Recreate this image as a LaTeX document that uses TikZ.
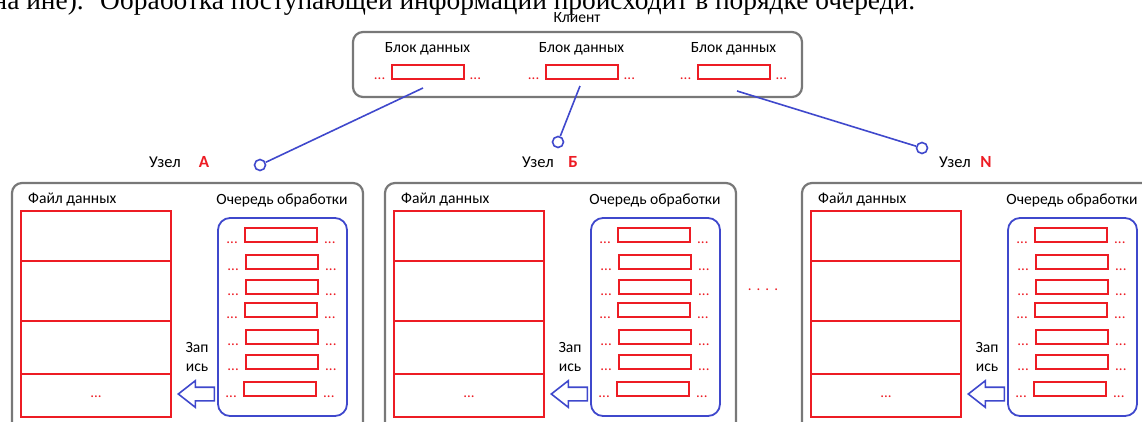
\documentclass[tikz,border=0pt]{standalone}
\usepackage{fontspec}
\setmainfont{Carlito}
\newfontfamily\serifbody{Liberation Serif}
\usepackage{tikz}
\usetikzlibrary{positioning}
\usetikzlibrary{shapes.arrows}
\definecolor{myred}{RGB}{237,28,36}
\definecolor{myblue}{RGB}{63,72,204}
\definecolor{mygray}{RGB}{120,120,120}
\tikzset{
  mybox/.style={
    draw=mygray,
    shape=rectangle,
    line width=2.2pt,
    rounded corners=10pt,
    inner sep=0pt,
  },
  myqueue/.style={
    draw=myblue,
    shape=rectangle,
    line width=1.8pt,
    rounded corners=12pt,
    inner sep=0pt,
  },
  myblock/.style={
    draw=myred,
    shape=rectangle,
    line width=2pt,
    minimum width=72pt,
    minimum height=14pt,
    inner sep=0pt,
  },
  myfile/.style={
    draw=myred,
    shape=rectangle,
    line width=2pt,
    minimum width=150pt,
    minimum height=206pt,
    inner sep=0pt,
  },
  mylabel/.style={
    inner sep=0pt,
    font=\fontsize{15.6}{17}\selectfont
  },
  mydots/.style={
    text=myred,
    inner sep=0pt,
    font=\fontsize{15}{17}\selectfont
  },
  myname/.style={
    text=myred,
    inner sep=0pt,
    font=\fontsize{17}{18}\selectfont\bfseries
  },
  mytext/.style={
    inner sep=0pt,
    font=\serifbody\fontsize{27.4}{28}\selectfont
  },
  mylink/.style={
    draw=myblue,
    line width=1.6pt,
  },
  myport/.style={
    draw=myblue,
    shape=circle,
    line width=1.6pt,
    minimum size=11pt,
    inner sep=0pt,
  },
  mywrite/.style={
    draw=myblue,
    single arrow,
    line width=1.6pt,
    shape border rotate=180,
    inner sep=0pt,
    inner ysep=6pt,
    minimum height=36pt,
    single arrow head extend=6.5pt,
    single arrow tip angle=76,
  },
}

\begin{document}
\begin{tikzpicture}[x=1pt, y=-1pt]
    \clip (0, 0) rectangle (1142, 421);

    \node [mytext, anchor=base west] (T) at (100, 9.5) {Обработка поступающей информации происходит в порядке очереди.};
    \node [mytext, anchor=base east] (T0) at (84, 9.5) {на ине).};

    % client with its blocks
    \node [mylabel] (CL) at (577, 18) {Клиент};
    \node [mybox, minimum width=449pt, minimum height=65pt] (C) at (577.5, 64.5) {};
    \foreach \nm/\bx in {1/427.5, 2/581.5, 3/733.5} {
      \node [myblock] (CB\nm) at (\bx, 71.5) {};
      \node [mylabel, above=8pt of CB\nm] {Блок данных};
      \node [mydots, left=5pt of CB\nm.south west, anchor=base east] {...};
      \node [mydots, right=5pt of CB\nm.south east, anchor=base west] {...};
    }

    % storage nodes
    \foreach \ox/\nm/\lt/\lx in {0/A/А/204, 373/B/Б/200, 790/N/N/196} {
      \node [mybox, minimum width=351pt, minimum height=260pt] (N\nm) at (\ox+187.5, 313) {};
      \node [mylabel, font=\fontsize{16.5}{18}\selectfont] (U\nm) at (\ox+165, 162) {Узел};
      \node [myname] (L\nm) at (\ox+\lx, 162) {\lt};
      \node [mylabel, anchor=west] at (\ox+28, 200) {Файл данных};
      \node [mylabel] at (\ox+282, 200) {Очередь обработки};
      \node [myfile] (F\nm) at (\ox+96, 314) {};
      \foreach \ry in {261, 321, 374}
        \draw [myred, line width=2pt] (\ox+21, \ry) -- (\ox+172, \ry);
      \node [mydots] at (\ox+96, 397) {...};
      \node [myqueue, minimum width=129pt, minimum height=198pt] (Q\nm) at (\ox+282.5, 317) {};
      \foreach \qy/\qx in {235/281, 262/282, 287/282, 310/281, 337/282, 362/282, 389/280} {
        \node [myblock] (q) at (\ox+\qx, \qy) {};
        \node [mydots, left=6pt of q.south west, anchor=base east] {...};
        \node [mydots, right=6pt of q.south east, anchor=base west] {...};
      }
      \node [mylabel] at (\ox+197, 347) {Зап};
      \node [mylabel] at (\ox+197, 368) {ись};
      \node [mywrite, anchor=tip] (W\nm) at (\ox+177, 394) {};
    }

    \node [mydots] (M) at (763, 290) {.\hspace{5pt}.\hspace{5pt}.\hspace{5pt}.};

    % links from the client to the nodes
    \coordinate (CA) at (423, 88);
    \coordinate (CB) at (580, 86);
    \coordinate (CN) at (737, 91);
    \node [myport] (PA) at (260, 165) {};
    \node [myport] (PB) at (558, 142) {};
    \node [myport] (PN) at (922, 148) {};
    \draw [mylink] (CA) -- (PA);
    \draw [mylink] (CB) -- (PB);
    \draw [mylink] (CN) -- (PN);

\end{tikzpicture}
\end{document}
